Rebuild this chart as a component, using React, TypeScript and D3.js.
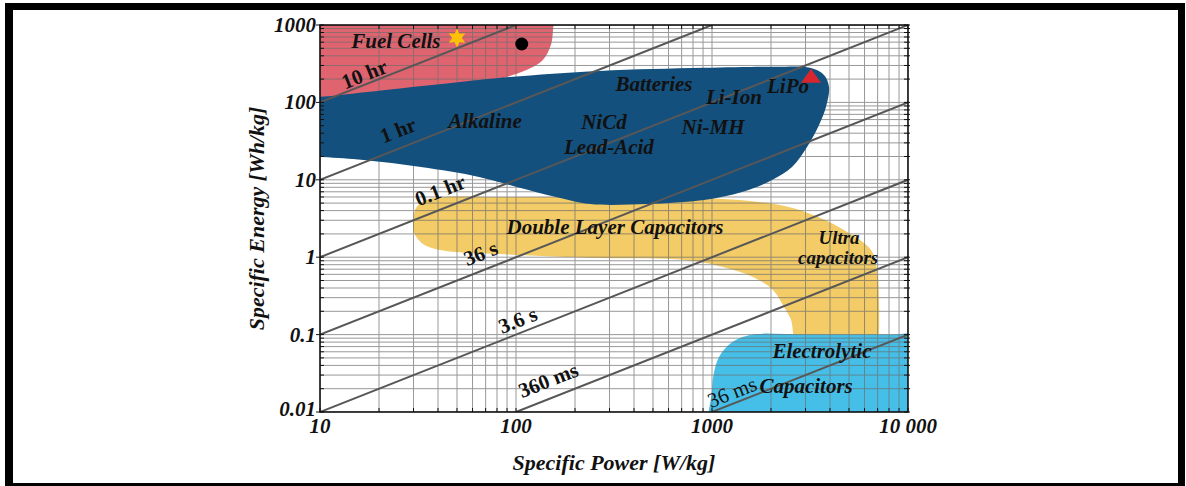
import React from 'react';
import * as d3 from 'd3';

const W = 1186;
const H = 486;
const M = { left: 320, right: 908, top: 25, bottom: 412 };

// Axis ticks
const powerTicks = [10, 100, 1000, 10000];
const powerTickLabels = ['10', '100', '1000', '10 000'];
const energyTicks = [0.01, 0.1, 1, 10, 100, 1000];
const energyTickLabels = ['0.01', '0.1', '1', '10', '100', '1000'];

// Constant discharge-time lines (hours) and their label anchors [W/kg, Wh/kg]
const timeNames = ['10 hr', '1 hr', '0.1 hr', '36 s', '3.6 s', '360 ms', '36 ms'];
const timeHours = [10, 1, 0.1, 0.01, 0.001, 0.0001, 0.00001];
const timeLabelP = [16.8, 25, 41, 66, 102, 146, 1265];
const timeLabelE = [233, 44, 7.38, 1.13, 0.155, 0.0259, 0.0181];

// Regions, outlines as [W/kg, Wh/kg]
const fuelCells: [number, number][] = [
  [3, 1300], [158, 1300], [155, 942], [151, 560], [136, 345], [113, 262],
  [89.9, 213], [65.5, 163], [10, 92.6], [3, 80],
];
const batteries: [number, number][] = [
  [3, 97], [10, 118], [21, 144], [51.8, 184], [93.1, 213], [268, 255], [910, 280],
  [2222, 289], [3162, 280], [3727, 226], [3954, 158], [3815, 87.3],
  [3478, 48.1], [3054, 26.5], [2560, 14.6], [2024, 9.93], [1423, 6.95],
  [910, 5.48], [466, 4.87], [239, 4.87], [160, 5.99], [101, 8.07],
  [64.7, 10.9], [32.7, 14.6], [16.7, 18.0], [10.2, 19.7], [3, 22],
];
const doubleLayer: [number, number][] = [
  [29.8, 2.61], [30.9, 4.32], [34.8, 5.48], [43.5, 5.99], [82.8, 5.99],
  [268, 5.99], [910, 5.82], [2222, 4.72], [3478, 3.3], [5000, 2.05],
  [6476, 1.24], [6950, 0.684], [7110, 0.28], [7110, 0.1], [7000, 0.06], [2700, 0.06],
  [2600, 0.1], [2530, 0.155], [2330, 0.228], [2047, 0.377], [1619, 0.555], [1138, 0.747],
  [728, 0.92], [268, 0.977], [82.8, 1.1], [41, 1.24], [33.1, 1.52], [30.2, 2.05],
];
const electrolytic: [number, number][] = [
  [1000, 0.003], [1000, 0.019], [1023, 0.032], [1086, 0.0514], [1250, 0.0778],
  [1563, 0.099], [3000, 0.1], [8000, 0.1], [30000, 0.1], [30000, 0.003], [5000, 0.003],
];

// Region labels [text, W/kg, Wh/kg, font size]
const labelTexts = ['Fuel Cells', 'Batteries', 'LiPo', 'Li-Ion', 'Alkaline', 'NiCd', 'Ni-MH', 'Lead-Acid',
  'Double Layer Capacitors', 'Ultra', 'capacitors', 'Electrolytic', 'Capacitors'];
const labelP = [24.4, 506, 2443, 1294, 69.5, 281, 1012, 298, 320, 4446, 4400, 3639, 3020];
const labelE = [505, 140, 132, 95.3, 46.7, 45.3, 39.1, 21.5, 2.0, 1.46, 0.81, 0.0499, 0.0176];
const labelSize = [21, 21, 21, 21, 21, 21, 21, 21, 21, 19, 19, 21, 21];

// Markers
const starPoint: [number, number] = [50, 679];
const dotPoint: [number, number] = [107, 568];
const trianglePoint: [number, number] = [3200, 215];

const FONT = "'Liberation Serif', 'Times New Roman', serif";

export default function App() {
  const x = d3.scaleLog().domain([10, 10000]).range([M.left, M.right]);
  const y = d3.scaleLog().domain([0.01, 1000]).range([M.bottom, M.top]);

  const region = d3.line<[number, number]>()
    .x(d => x(d[0])).y(d => y(d[1]))
    .curve(d3.curveCatmullRomClosed.alpha(0.5));
  const straight = d3.line<[number, number]>().x(d => x(d[0])).y(d => y(d[1]));

  const gridP: number[] = [];
  for (let n = 1; n <= 3; n++) for (let k = 1; k <= 9; k++) gridP.push(k * Math.pow(10, n));
  gridP.push(10000);
  const gridE: number[] = [];
  for (let n = -2; n <= 2; n++) for (let k = 1; k <= 9; k++) gridE.push(k * Math.pow(10, n));
  gridE.push(1000);

  const timeSegs = timeHours.map(t => {
    const p0 = Math.max(10, 0.01 / t);
    const p1 = Math.min(10000, 1000 / t);
    return [[p0, p0 * t], [p1, p1 * t]] as [number, number][];
  });
  const angle = Math.atan2(y(100) - y(10), x(100) - x(10)) * 180 / Math.PI;

  const star = (() => {
    const pts: [number, number][] = [];
    for (let i = 0; i < 12; i++) {
      const r = i % 2 === 0 ? 9.5 : 4.8;
      const a = (i * Math.PI) / 6;
      pts.push([a, r]);
    }
    return d3.lineRadial<[number, number]>().angle(d => d[0]).radius(d => d[1]).curve(d3.curveLinearClosed)(pts);
  })();

  const tx = x(trianglePoint[0]);
  const ty = y(trianglePoint[1]);

  return (
    <svg width={W} height={H} style={{ position: 'absolute', left: 0, top: 0, background: '#fff' }}>
      <defs>
        <clipPath id="plotClip">
          <rect x={M.left} y={M.top} width={M.right - M.left} height={M.bottom - M.top} />
        </clipPath>
      </defs>
      {/* outer frame */}
      <rect x={0} y={0} width={W} height={H} fill="#fff" />
      <rect x={5} y={3} width={8} height={483} fill="#000" />
      <rect x={5} y={3} width={1180} height={7} fill="#000" />
      <rect x={1178} y={3} width={7} height={483} fill="#000" />
      <rect x={5} y={483} width={1180} height={3} fill="#000" />

      <g clipPath="url(#plotClip)">
        <path d={region(fuelCells) || ''} fill="#E06470" />
        <path d={region(doubleLayer) || ''} fill="#F3CC67" />
        <path d={region(electrolytic) || ''} fill="#46BFE8" />
        <g stroke="#6e6e6e" strokeWidth={1} opacity={0.7}>
          {gridP.map((p, i) => (
            <line key={'gp' + i} x1={x(p)} x2={x(p)} y1={M.top} y2={M.bottom} />
          ))}
          {gridE.map((e, i) => (
            <line key={'ge' + i} x1={M.left} x2={M.right} y1={y(e)} y2={y(e)} />
          ))}
        </g>
        <path d={region(batteries) || ''} fill="#14507D" />
        <g stroke="#575757" strokeWidth={2} fill="none">
          {timeSegs.map((s, i) => <path key={'t' + i} d={straight(s) || ''} />)}
        </g>
      </g>

      {/* axes frame and ticks */}
      <rect x={M.left} y={M.top} width={M.right - M.left} height={M.bottom - M.top} fill="none" stroke="#111" strokeWidth={1.6} />
      <g stroke="#111" strokeWidth={1}>
        {gridE.map((e, i) => (
          <g key={'te' + i}>
            <line x1={M.left} x2={M.left + 4} y1={y(e)} y2={y(e)} />
            <line x1={M.right - 4} x2={M.right + 2} y1={y(e)} y2={y(e)} />
          </g>
        ))}
        {gridP.map((p, i) => (
          <g key={'tp' + i}>
            <line x1={x(p)} x2={x(p)} y1={M.bottom} y2={M.bottom - 4} />
            <line x1={x(p)} x2={x(p)} y1={M.top} y2={M.top + 4} />
          </g>
        ))}
        {energyTicks.map((e, i) => (
          <line key={'me' + i} x1={M.left - 4} x2={M.left} y1={y(e)} y2={y(e)} />
        ))}
      </g>

      {/* markers */}
      <path d={star || ''} transform={`translate(${x(starPoint[0])},${y(starPoint[1])})`} fill="#FFC107" />
      <circle cx={x(dotPoint[0])} cy={y(dotPoint[1])} r={6.5} fill="#000" />
      <path d={`M${tx},${ty - 8}L${tx + 10},${ty + 6}L${tx - 10},${ty + 6}Z`} fill="#D7262E" />

      {/* time labels */}
      <g fontFamily={FONT} fontSize={21} fill="#111">
        {timeNames.map((t, i) => {
          const cx = x(timeLabelP[i]);
          const cy = y(timeLabelE[i]);
          return (
            <text key={'tl' + i} x={cx} y={cy} dy="0.35em" textAnchor="middle"
              fontWeight={i === 6 ? 'normal' : 'bold'}
              transform={`rotate(${angle},${cx},${cy})`}>{t}</text>
          );
        })}
      </g>

      {/* region labels */}
      <g fontFamily={FONT} fontWeight="bold" fontStyle="italic" fill="#111" textAnchor="middle">
        {labelTexts.map((t, i) => (
          <text key={'rl' + i} x={x(labelP[i])} y={y(labelE[i])} fontSize={labelSize[i]}>{t}</text>
        ))}
      </g>

      {/* tick labels */}
      <g fontFamily={FONT} fontSize={21} fontWeight="bold" fontStyle="italic" fill="#111">
        {energyTicks.map((e, i) => (
          <text key={'el' + i} x={M.left - 4} y={y(e)} dy={i === 0 ? '0.2em' : '0.33em'} textAnchor="end">{energyTickLabels[i]}</text>
        ))}
        {powerTicks.map((p, i) => (
          <text key={'pl' + i} x={x(p)} y={M.bottom + 21} textAnchor="middle">{powerTickLabels[i]}</text>
        ))}
        <text x={(M.left + M.right) / 2} y={470} textAnchor="middle" fontSize={22}>Specific Power [W/kg]</text>
        <text transform={`translate(264,${(M.top + M.bottom) / 2}) rotate(-90)`} textAnchor="middle" fontSize={22}>Specific Energy [Wh/kg]</text>
      </g>
    </svg>
  );
}
